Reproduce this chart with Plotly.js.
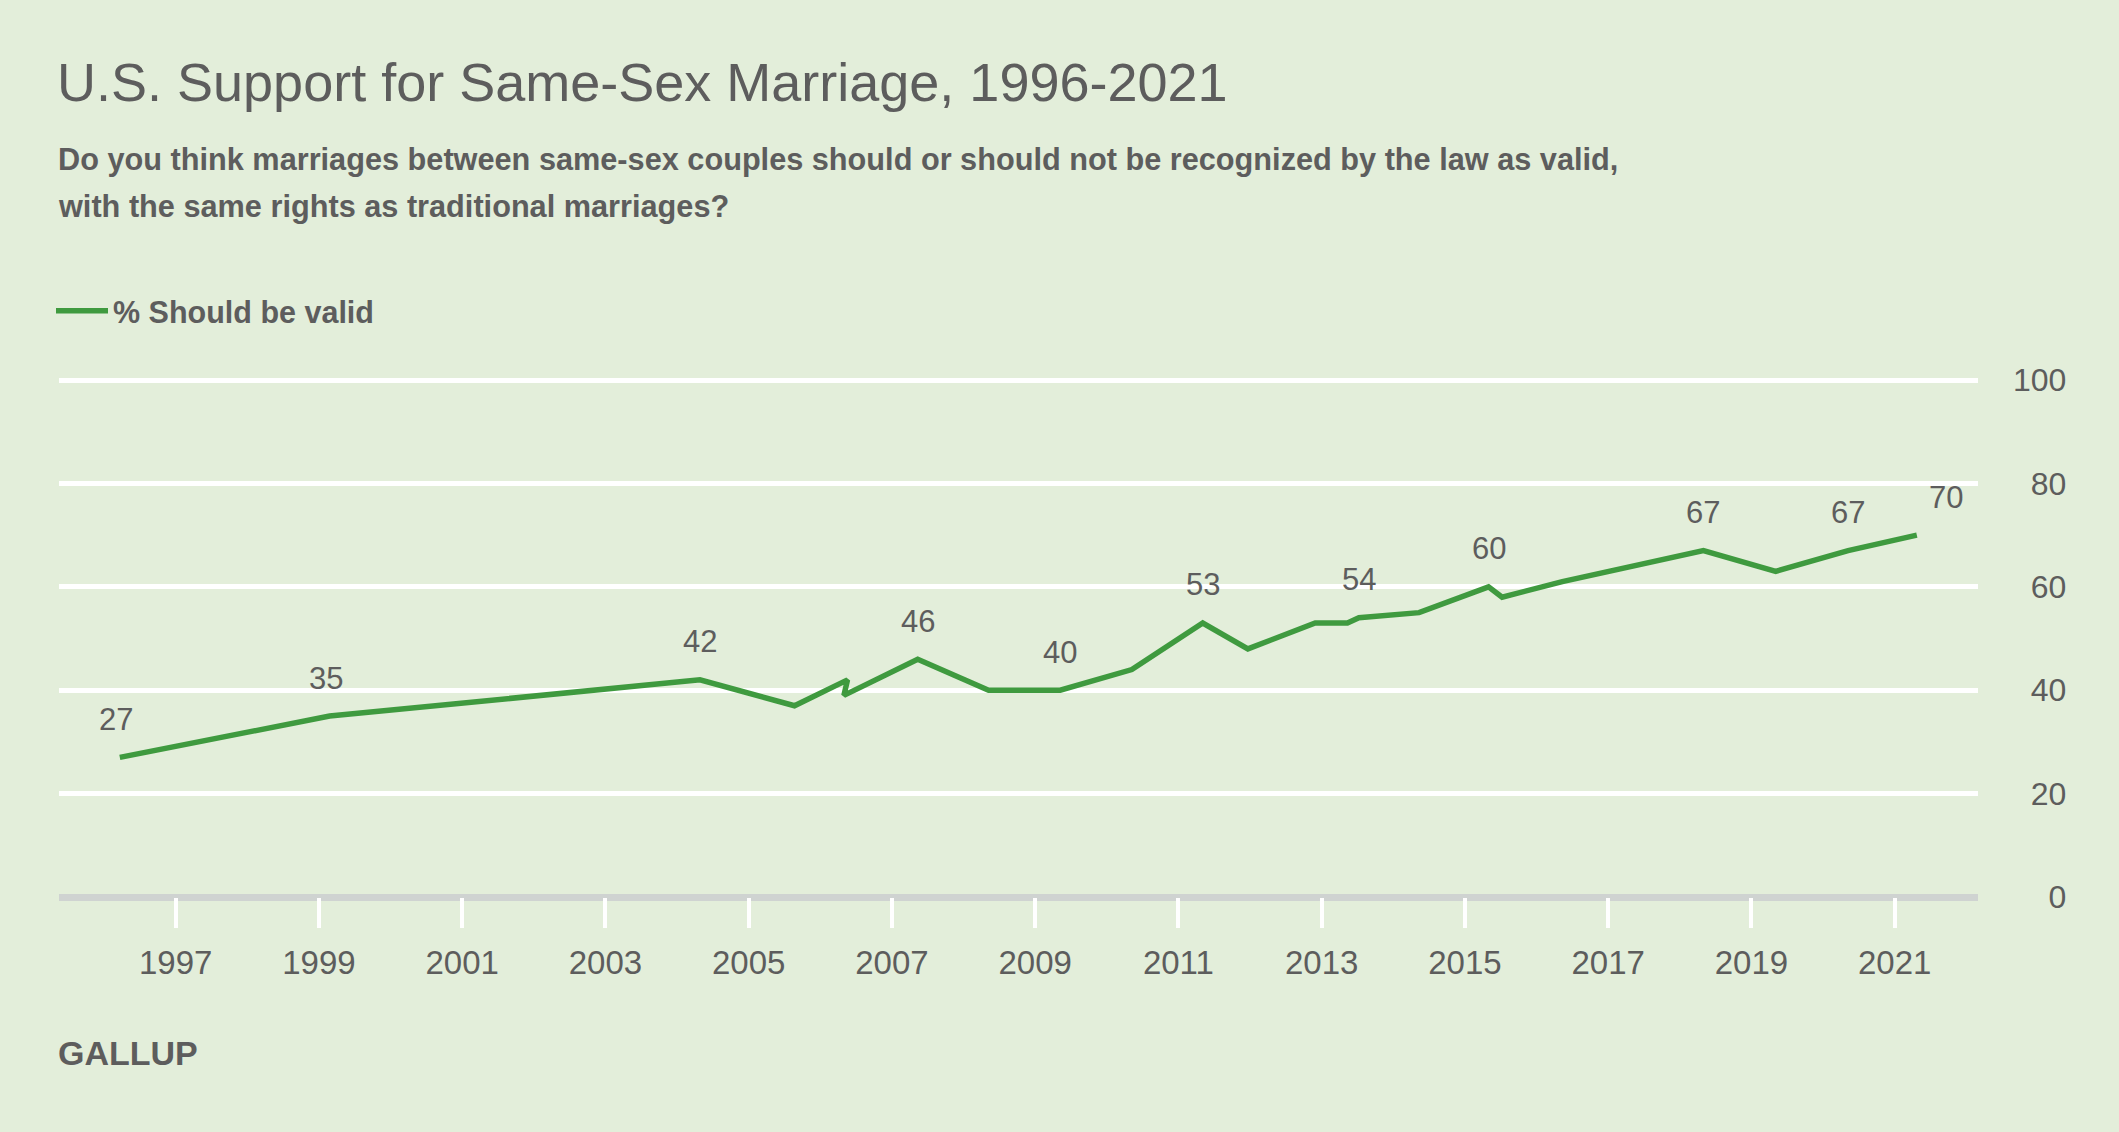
<!DOCTYPE html>
<html>
<head>
<meta charset="utf-8">
<script src="https://cdn.plot.ly/plotly-3.0.1.min.js"></script>
<style>
  html, body { margin: 0; padding: 0; background: #e3eeda; }
  #chart { width: 2119px; height: 1132px; }
</style>
</head>
<body>
<div id="chart"></div>
<script>
// ---- data ----
const surveyDates = [1996.22, 1999.15, 2004.32, 2005.64, 2006.38, 2006.33, 2007.36, 2008.35,
                     2009.35, 2010.35, 2011.34, 2011.97, 2012.91, 2013.36, 2013.52, 2014.36,
                     2015.33, 2015.52, 2016.36, 2017.35, 2018.33, 2019.34, 2020.35, 2021.31];
const shouldBeValid = [27, 35, 42, 37, 42, 39, 46, 40,
                       40, 44, 53, 48, 53, 53, 54, 55,
                       60, 58, 61, 64, 67, 63, 67, 70];
const labelledPoints = [0, 1, 2, 6, 8, 10, 14, 16, 20, 22, 23];
const xTickYears = [1997, 1999, 2001, 2003, 2005, 2007, 2009, 2011, 2013, 2015, 2017, 2019, 2021];
const yTickValues = [0, 20, 40, 60, 80, 100];
const seriesName = '% Should be valid';
const chartTitle = 'U.S. Support for Same-Sex Marriage, 1996-2021';
const subtitleLines = [
  'Do you think marriages between same-sex couples should or should not be recognized by the law as valid,',
  'with the same rights as traditional marriages?'
];
const sourceText = 'GALLUP';

// ---- styling ----
const BG = '#e3eeda';
const TEXT = '#5d5d5d';
const GREEN = '#3f9a3f';
const FONT = 'Liberation Sans, Arial, sans-serif';

const W = 2119, H = 1132;
const margin = {l: 59, r: 141, t: 377, b: 235, pad: 0};
const plotH = H - margin.t - margin.b;
const pyOf = (py) => (H - margin.b - py) / plotH; // pixel y -> paper y

const trace = {
  type: 'scatter',
  mode: 'lines',
  name: seriesName,
  x: surveyDates,
  y: shouldBeValid,
  line: {color: GREEN, width: 5.5, shape: 'linear'},
  hoverinfo: 'x+y',
  showlegend: true
};

const annotations = labelledPoints.map((i, k) => ({
  x: surveyDates[i],
  y: shouldBeValid[i],
  xref: 'x', yref: 'y',
  text: String(shouldBeValid[i]),
  showarrow: false,
  yshift: 38,
  xshift: (k === labelledPoints.length - 1) ? 29 : (k < 2 ? -4 : 0),
  font: {family: FONT, size: 31, color: TEXT},
  xanchor: 'center', yanchor: 'middle'
}));

annotations.push({
  xref: 'paper', yref: 'paper', x: 0, y: pyOf(160), xshift: -3,
  xanchor: 'left', yanchor: 'middle', showarrow: false, align: 'left',
  text: '<b>' + subtitleLines[0] + '</b>',
  font: {family: FONT, size: 30.7, color: TEXT}
});
annotations.push({
  xref: 'paper', yref: 'paper', x: 0, y: pyOf(206.7), xshift: -3,
  xanchor: 'left', yanchor: 'middle', showarrow: false, align: 'left',
  text: '<b>' + subtitleLines[1] + '</b>',
  font: {family: FONT, size: 30.7, color: TEXT}
});
annotations.push({
  xref: 'paper', yref: 'paper', x: 0, y: pyOf(1053), xshift: -3,
  xanchor: 'left', yanchor: 'middle', showarrow: false,
  text: '<b>' + sourceText + '</b>',
  font: {family: FONT, size: 34, color: TEXT}
});

const pad = (v) => {
  const s = String(v);
  return '\u2007'.repeat(3 - s.length) + s;
};

const layout = {
  width: W, height: H,
  margin: margin,
  paper_bgcolor: BG,
  plot_bgcolor: BG,
  font: {family: FONT, color: TEXT},
  title: {
    text: chartTitle,
    xref: 'container', yref: 'container',
    x: 57 / W, xanchor: 'left',
    y: 1 - 82 / H, yanchor: 'middle',
    font: {family: FONT, size: 54, color: TEXT}
  },
  showlegend: true,
  legend: {
    orientation: 'h',
    x: -8 / (W - margin.l - margin.r), xanchor: 'left', xref: 'paper',
    y: pyOf(311), yanchor: 'middle', yref: 'paper',
    bgcolor: 'rgba(0,0,0,0)',
    font: {family: FONT, size: 30.5, color: TEXT, weight: 'bold'},
    itemwidth: 52,
    tracegroupgap: 0
  },
  xaxis: {
    range: [1995.371, 2022.164],
    tickmode: 'array',
    tickvals: xTickYears,
    ticktext: xTickYears.map(String),
    ticks: 'outside',
    ticklen: 30,
    tickwidth: 4,
    tickcolor: '#ffffff',
    showgrid: false,
    zeroline: false,
    showline: false,
    ticklabelstandoff: 6,
    tickfont: {family: FONT, size: 33, color: TEXT},
    fixedrange: true
  },
  yaxis: {
    range: [0, 100.58],
    side: 'right',
    tickmode: 'array',
    tickvals: yTickValues,
    ticktext: yTickValues.map(pad),
    ticks: '',
    showgrid: true,
    gridcolor: '#ffffff',
    gridwidth: 5,
    zeroline: true,
    zerolinecolor: '#cfd3d1',
    zerolinewidth: 7,
    showline: false,
    ticklabelstandoff: 34,
    tickfont: {family: FONT, size: 32, color: TEXT},
    fixedrange: true
  },
  annotations: annotations
};

Plotly.newPlot('chart', [trace], layout, {displayModeBar: false, staticPlot: true});
</script>
</body>
</html>
